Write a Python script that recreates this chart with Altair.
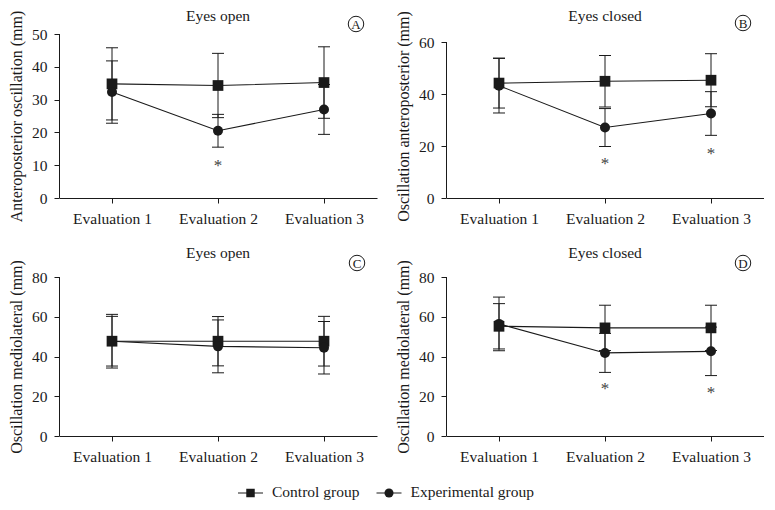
import altair as alt
import pandas as pd

# ---------------- data ----------------
evaluations = ["Evaluation 1", "Evaluation 2", "Evaluation 3"]
groups = ["Control group", "Experimental group"]

# Panel A - Eyes open, anteroposterior
a_control_mean = [34.8, 34.3, 35.2]
a_control_sd = [11.0, 9.8, 10.9]
a_exp_mean = [32.3, 20.5, 27.0]
a_exp_sd = [9.5, 5.0, 7.6]
a_star = [None, 11.0, None]

# Panel B - Eyes closed, anteroposterior
b_control_mean = [44.2, 44.9, 45.3]
b_control_sd = [9.6, 9.9, 10.2]
b_exp_mean = [43.2, 27.1, 32.5]
b_exp_sd = [10.5, 7.3, 8.4]
b_star = [None, 14.5, 18.6]

# Panel C - Eyes open, mediolateral
c_control_mean = [47.7, 47.7, 47.7]
c_control_sd = [13.5, 12.4, 12.5]
c_exp_mean = [47.7, 45.1, 44.4]
c_exp_sd = [12.5, 13.3, 13.2]
c_star = [None, None, None]

# Panel D - Eyes closed, mediolateral
d_control_mean = [55.2, 54.4, 54.4]
d_control_sd = [11.4, 11.4, 11.4]
d_exp_mean = [56.4, 41.8, 42.6]
d_exp_sd = [13.5, 9.8, 12.2]
d_star = [None, 25.8, 23.6]

panel_titles = ["Eyes open", "Eyes closed", "Eyes open", "Eyes closed"]
panel_letters = ["A", "B", "C", "D"]
y_titles = [
    "Anteroposterior oscillation (mm)",
    "Oscillation anteroposterior (mm)",
    "Oscillation mediolateral (mm)",
    "Oscillation mediolateral (mm)",
]
y_ticks = [[0, 10, 20, 30, 40, 50], [0, 20, 40, 60], [0, 20, 40, 60, 80], [0, 20, 40, 60, 80]]

# ---------------- style / layout ----------------
FONT = "Liberation Serif"
INK = "#1a1a1a"
W = 318
H_TOP = 164
H_BOT = 159
Y_DOMAIN_TOP = [50, 60 * 164 / 156, 80, 80]
TITLE_Y = [-18, -18, -24, -24]
LETTER_POS = [(297, -10), (297, -11), (298, -14), (297, -14)]
LEGEND_X_RANGE = [191.5, 330]
NO_FRAME = alt.ViewBackground(stroke="transparent", strokeWidth=0, strokeOpacity=0, fill="transparent")


def make_df(cm, cs, em, es):
    rows = []
    for i, ev in enumerate(evaluations):
        rows.append(dict(evaluation=ev, group=groups[0], mean=cm[i], lo=cm[i] - cs[i], hi=cm[i] + cs[i]))
        rows.append(dict(evaluation=ev, group=groups[1], mean=em[i], lo=em[i] - es[i], hi=em[i] + es[i]))
    return pd.DataFrame(rows)


def panel(idx, df, stars, height):
    ticks = y_ticks[idx]
    x_enc = alt.X(
        "evaluation:N",
        sort=evaluations,
        scale=alt.Scale(domain=evaluations, type="point", padding=0.5),
        axis=alt.Axis(
            title=None, labelAngle=0, labelFont=FONT, labelFontSize=15.5, labelColor=INK,
            tickSize=5, tickColor=INK, domainColor=INK, labelPadding=8, grid=False,
        ),
    )
    y_scale = alt.Scale(domain=[0, Y_DOMAIN_TOP[idx]], nice=False, zero=True)
    y_axis = alt.Axis(
        values=ticks, title=y_titles[idx], titleFont=FONT, titleFontSize=16,
        titleFontWeight="normal", titleColor=INK, labelFont=FONT, labelFontSize=15.5,
        labelColor=INK, tickSize=5, tickColor=INK, domain=False, grid=False,
        labelPadding=7, titlePadding=7,
    )

    def yq(field):
        return alt.Y(f"{field}:Q", scale=y_scale, axis=y_axis)

    base = alt.Chart(df)

    axis_line = alt.Chart(pd.DataFrame({"y0": [0], "y1": [ticks[-1]]})).mark_rule(
        color=INK, strokeWidth=1
    ).encode(x=alt.value(0.5), y=yq("y0"), y2="y1:Q")

    bars = base.mark_rule(color=INK, strokeWidth=1).encode(x=x_enc, y=yq("lo"), y2="hi:Q")
    cap_lo = base.mark_tick(color=INK, size=12, thickness=1, opacity=1, orient="horizontal").encode(x=x_enc, y=yq("lo"))
    cap_hi = base.mark_tick(color=INK, size=12, thickness=1, opacity=1, orient="horizontal").encode(x=x_enc, y=yq("hi"))
    lines = base.mark_line(color=INK, strokeWidth=1.1).encode(x=x_enc, y=yq("mean"), detail="group:N")
    squares = base.transform_filter(alt.datum.group == groups[0]).mark_point(
        shape="square", filled=True, size=115, color=INK, opacity=1
    ).encode(x=x_enc, y=yq("mean"))
    circles = base.transform_filter(alt.datum.group == groups[1]).mark_point(
        shape="circle", filled=True, size=100, color=INK, opacity=1
    ).encode(x=x_enc, y=yq("mean"))

    layers = [axis_line, bars, cap_lo, cap_hi, lines, squares, circles]

    star_rows = [dict(evaluation=ev, y=v) for ev, v in zip(evaluations, stars) if v is not None]
    if star_rows:
        star_layer = alt.Chart(pd.DataFrame(star_rows)).mark_text(
            text="*", font=FONT, fontSize=17, color="#444", baseline="middle", dy=4
        ).encode(x=x_enc, y=yq("y"))
        layers.append(star_layer)

    # panel title and circled panel letter
    label_df = pd.DataFrame({"title": [panel_titles[idx]], "letter": [panel_letters[idx]]})
    title_layer = alt.Chart(label_df).mark_text(
        font=FONT, fontSize=15.5, color=INK, baseline="middle", align="center"
    ).encode(x=alt.value(W / 2), y=alt.value(TITLE_Y[idx]), text="title:N")
    lx, ly = LETTER_POS[idx]
    ring = alt.Chart(label_df).mark_point(
        shape="circle", filled=False, size=240, strokeWidth=1, color=INK, opacity=1
    ).encode(x=alt.value(lx), y=alt.value(ly))
    letter = alt.Chart(label_df).mark_text(
        font=FONT, fontSize=13, color=INK, baseline="middle", align="center", dy=0.5
    ).encode(x=alt.value(lx), y=alt.value(ly), text="letter:N")
    layers += [title_layer, ring, letter]

    return alt.layer(*layers).properties(width=W, height=height, view=NO_FRAME)


def legend_chart():
    ldf = pd.DataFrame({"group": groups})
    lx = alt.X(
        "group:N", sort=groups,
        scale=alt.Scale(domain=groups, type="point", range=LEGEND_X_RANGE, padding=0),
        axis=None,
    )
    lbase = alt.Chart(ldf)
    stub = lbase.mark_tick(orient="horizontal", size=25, thickness=1, color=INK, opacity=1).encode(x=lx)
    sq = lbase.transform_filter(alt.datum.group == groups[0]).mark_point(
        shape="square", filled=True, size=72, color=INK, opacity=1
    ).encode(x=lx)
    ci = lbase.transform_filter(alt.datum.group == groups[1]).mark_point(
        shape="circle", filled=True, size=82, color=INK, opacity=1
    ).encode(x=lx)
    txt = lbase.mark_text(
        font=FONT, fontSize=15.5, color=INK, align="left", baseline="middle", dx=21.5, dy=-1.5
    ).encode(x=lx, text="group:N")
    return alt.layer(stub, sq, ci, txt).properties(width=640, height=12, view=NO_FRAME)


pA = panel(0, make_df(a_control_mean, a_control_sd, a_exp_mean, a_exp_sd), a_star, H_TOP)
pB = panel(1, make_df(b_control_mean, b_control_sd, b_exp_mean, b_exp_sd), b_star, H_TOP)
pC = panel(2, make_df(c_control_mean, c_control_sd, c_exp_mean, c_exp_sd), c_star, H_BOT)
pD = panel(3, make_df(d_control_mean, d_control_sd, d_exp_mean, d_exp_sd), d_star, H_BOT)

chart = alt.vconcat(
    alt.hconcat(pA, pB, spacing=18),
    alt.hconcat(pC, pD, spacing=18),
    legend_chart(),
    spacing=19,
).properties(
    padding={"left": 0, "top": 1, "right": 0, "bottom": 0}
).configure_view(
    strokeWidth=0, stroke="transparent"
).configure(background="white")

chart.save("out.html", embed_options={"renderer": "svg", "actions": False})
